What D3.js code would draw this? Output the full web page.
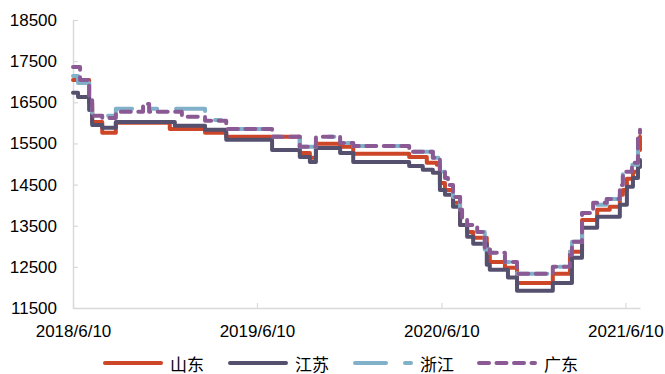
<!DOCTYPE html>
<html>
<head>
<meta charset="utf-8">
<script src="https://cdn.jsdelivr.net/npm/d3@7"></script>
<style>
  html, body { margin: 0; padding: 0; background: #fff; }
  svg { display: block; font-family: "Liberation Sans", Arial, "Noto Sans CJK SC", sans-serif; }
</style>
</head>
<body>
<svg id="chart" width="665" height="374"></svg>
<script>
const dates = ["2018-06-10","2018-06-20","2018-06-24","2018-07-12","2018-07-18","2018-08-07","2018-09-03","2018-10-27","2018-11-08","2018-12-19","2018-12-29","2019-01-12","2019-02-27","2019-04-10","2019-07-10","2019-09-03","2019-09-23","2019-10-05","2019-11-22","2019-12-18","2020-04-07","2020-05-04","2020-05-12","2020-05-24","2020-06-01","2020-06-07","2020-06-17","2020-06-23","2020-07-03","2020-07-17","2020-07-21","2020-07-31","2020-08-12","2020-08-20","2020-09-04","2020-09-08","2020-09-14","2020-10-14","2020-10-20","2020-11-07","2021-01-17","2021-02-20","2021-02-24","2021-03-16","2021-04-07","2021-04-15","2021-05-04","2021-05-10","2021-05-30","2021-06-05","2021-06-13","2021-06-23","2021-06-25","2021-07-05","2021-07-09"];
const shandong = [17040,17040,17040,16480,16020,15760,16000,16000,16000,15850,15850,15850,15760,15660,15660,15270,15150,15490,15420,15250,15170,15170,15030,15030,14980,14540,14370,14370,14060,13520,13520,13350,13210,13210,13210,12920,12620,12480,12480,12110,12330,12870,12870,13640,13640,13890,13890,13960,14250,14370,14640,14640,14810,15340,15660];
const jiangsu = [16730,16630,16630,16310,15950,15880,16020,16020,16020,16020,15930,15930,15830,15590,15340,15170,15050,15390,15270,15050,14950,14860,14860,14790,14790,14370,14250,14250,13960,13520,13520,13230,13060,13060,13060,12550,12430,12430,12240,11920,12110,12110,12720,13450,13450,13720,13720,13720,14010,14010,14450,14450,14660,14930,15100];
const zhejiang = [17140,16970,16970,16560,16170,16170,16340,16340,16340,16340,16340,16340,16070,15850,15660,15420,15420,15660,15510,15440,15300,15300,15300,15150,15150,14810,14660,14490,14200,13890,13690,13520,13520,13350,12920,12920,12840,12620,12620,12330,12500,12870,13110,13810,14010,14010,14150,14150,14490,14810,14810,14980,14980,15590,15760];
const guangdong = [17360,17360,17040,16560,16170,16120,16270,16460,16270,16270,16270,16150,16050,15850,15660,15420,15420,15660,15510,15440,15300,15300,15300,15150,15150,14810,14660,14490,14200,13890,13690,13520,13520,13350,12920,12920,12840,12620,12620,12330,12500,12790,13110,13810,14060,14060,14150,14150,14490,14810,14810,15030,15030,15710,15830];
const seriesNames = ["山东","江苏","浙江","广东"];
const yTicks = [11500,12500,13500,14500,15500,16500,17500,18500];
const xTickDates = ["2018-06-10","2019-06-10","2020-06-10","2021-06-10"];

const parse = d3.timeParse("%Y-%m-%d");
const fmt = d3.timeFormat("%Y/%-m/%-d");
const colors = ["#cd4628","#56506f","#80b1c8","#8b5a95"];
const dashes = [null, null, "31,19,6,19", "10,7.5"];
const seriesVals = [shandong, jiangsu, zhejiang, guangdong];

const svg = d3.select("#chart");
const x = d3.scaleTime().domain([parse("2018-06-10"), parse("2021-07-09")]).range([73, 640]);
const y = d3.scaleLinear().domain([11500, 18500]).range([308, 20]);

const gy = svg.append("g").attr("transform", "translate(73,0)")
  .call(d3.axisLeft(y).tickValues(yTicks).tickSizeInner(-5).tickSizeOuter(0).tickPadding(16).tickFormat(d3.format("d")));
const gx = svg.append("g").attr("transform", "translate(0,308)")
  .call(d3.axisBottom(x).tickValues(xTickDates.map(parse)).tickSizeInner(-5).tickSizeOuter(0).tickPadding(17).tickFormat(fmt));
[gx, gy].forEach(g => {
  g.selectAll("path.domain").attr("stroke", "#d9d9d9").attr("stroke-width", 1.5);
  g.selectAll(".tick line").attr("stroke", "#d9d9d9").attr("stroke-width", 1.2);
  g.selectAll("text").attr("font-size", 17).attr("fill", "#000")
    .attr("font-family", "'Liberation Sans', Arial, sans-serif");
});

const line = d3.line().curve(d3.curveStepAfter).x(d => x(d[0])).y(d => y(d[1]));
seriesVals.forEach((vals, i) => {
  const data = dates.map((d, j) => [parse(d), vals[j]]);
  svg.append("path").datum(data)
    .attr("d", line)
    .attr("fill", "none")
    .attr("stroke", colors[i])
    .attr("stroke-width", 4)
    .attr("stroke-linecap", "round")
    .attr("stroke-linejoin", "round")
    .attr("stroke-dasharray", dashes[i]);
});

// legend
const legX = [103, 228, 353, 477];
const leg = svg.append("g");
seriesNames.forEach((name, i) => {
  leg.append("line")
    .attr("x1", legX[i] + 2).attr("x2", legX[i] + 58)
    .attr("y1", 363).attr("y2", 363)
    .attr("stroke", colors[i]).attr("stroke-width", 4)
    .attr("stroke-linecap", "round")
    .attr("stroke-dasharray", dashes[i]);
  leg.append("text")
    .attr("x", legX[i] + 67).attr("y", 363)
    .attr("dominant-baseline", "central")
    .attr("font-size", 17)
    .attr("font-family", "'Noto Sans CJK SC', sans-serif")
    .attr("fill", "#000")
    .text(name);
});
</script>
</body>
</html>
